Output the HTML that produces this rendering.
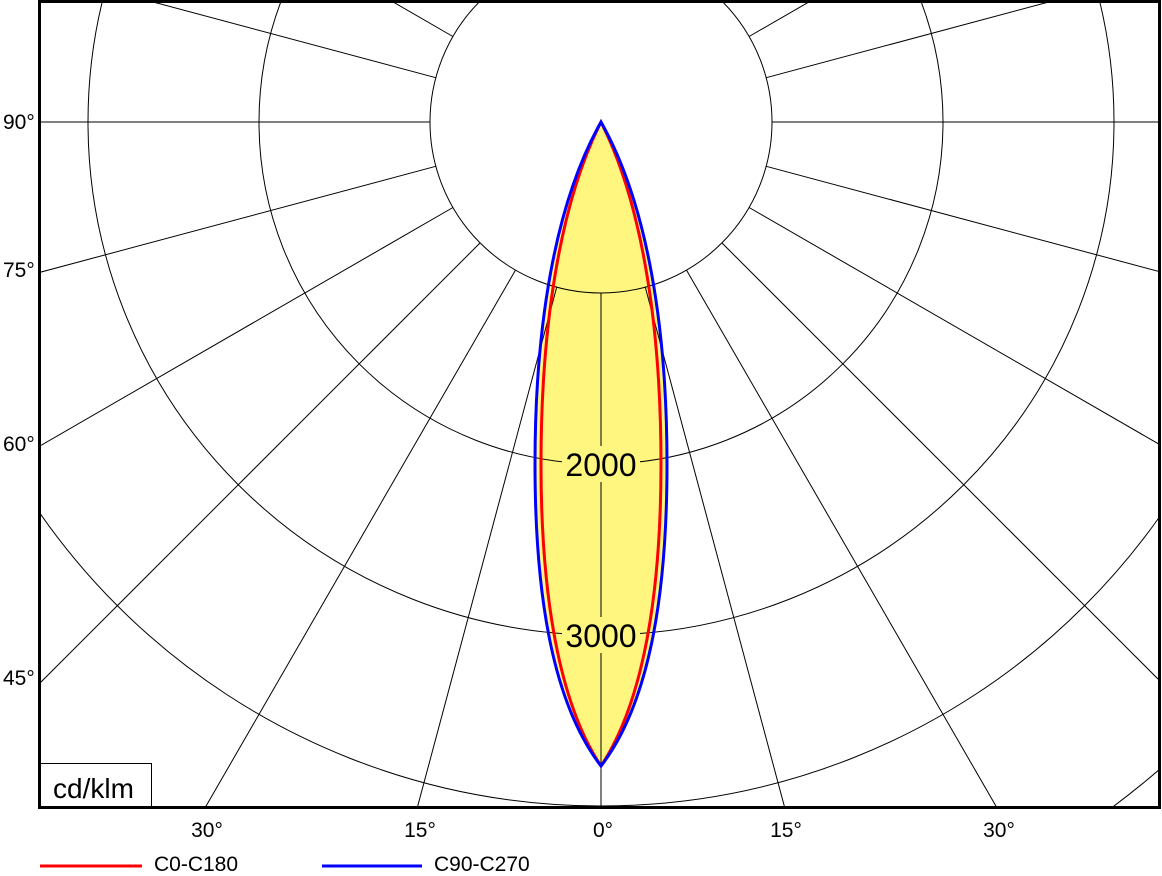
<!DOCTYPE html>
<html><head><meta charset="utf-8"><style>
html,body{margin:0;padding:0;background:#fff;overflow:hidden;width:1162px;height:876px;}
svg{display:block;}
text{font-family:"Liberation Sans",Arial,sans-serif;fill:#000;}
</style></head><body>
<svg width="1162" height="876" viewBox="0 0 1162 876" xmlns="http://www.w3.org/2000/svg">
<defs>
<clipPath id="c"><rect x="40" y="2" width="1120" height="806"/></clipPath>
</defs>
<rect width="1162" height="876" fill="#fff"/>
<g clip-path="url(#c)">
<path d="M601,122 C648,205 667,330 667,464 C667,600 648,705 601,766 C554,705 535,600 535,464 C535,330 554,205 601,122 Z" fill="#FFF680"/>
<g fill="none" stroke="#000" stroke-width="1">
<circle cx="601" cy="122" r="171"/>
<circle cx="601" cy="122" r="342"/>
<circle cx="601" cy="122" r="513"/>
<circle cx="601" cy="122" r="684"/>
<circle cx="601" cy="122" r="855"/>
</g>
<g stroke="#000" stroke-width="1">
<line x1="601" y1="293" x2="601" y2="446"/>
<line x1="601" y1="482" x2="601" y2="617"/>
<line x1="601" y1="653" x2="601" y2="900"/>
<line x1="556.7" y1="287.2" x2="238.7" y2="1474.3"/>
<line x1="645.3" y1="287.2" x2="963.3" y2="1474.3"/>
<line x1="515.5" y1="270.1" x2="-99" y2="1334.4"/>
<line x1="686.5" y1="270.1" x2="1301" y2="1334.4"/>
<line x1="480.1" y1="242.9" x2="-389" y2="1112"/>
<line x1="721.9" y1="242.9" x2="1591" y2="1112"/>
<line x1="452.9" y1="207.5" x2="-611.4" y2="822"/>
<line x1="749.1" y1="207.5" x2="1813.4" y2="822"/>
<line x1="435.8" y1="166.3" x2="-751.3" y2="484.3"/>
<line x1="766.2" y1="166.3" x2="1953.3" y2="484.3"/>
<line x1="430" y1="122" x2="-799" y2="122"/>
<line x1="772" y1="122" x2="2001" y2="122"/>
<line x1="435.8" y1="77.7" x2="-751.3" y2="-240.3"/>
<line x1="766.2" y1="77.7" x2="1953.3" y2="-240.3"/>
<line x1="452.9" y1="36.5" x2="-611.4" y2="-578"/>
<line x1="749.1" y1="36.5" x2="1813.4" y2="-578"/>
<line x1="480.1" y1="1.1" x2="-389" y2="-868"/>
<line x1="721.9" y1="1.1" x2="1591" y2="-868"/>
</g>
<rect x="562" y="446" width="78" height="36" fill="#FFF680"/>
<rect x="562" y="617" width="78" height="36" fill="#FFF680"/>
<text x="601" y="476" font-size="32" text-anchor="middle">2000</text>
<text x="601" y="647" font-size="32" text-anchor="middle">3000</text>
<path d="M601,122 C643,205 661,330 661,464 C661,595 643,703 601,766 C559,703 541,595 541,464 C541,330 559,205 601,122 Z" fill="none" stroke="#f00" stroke-width="3"/>
<path d="M601,122 C648,205 667,330 667,464 C667,600 648,705 601,766 C554,705 535,600 535,464 C535,330 554,205 601,122 Z" fill="none" stroke="#00f" stroke-width="3"/>
</g>
<rect x="38.5" y="763.5" width="113" height="45" fill="#fff" stroke="#000" stroke-width="1"/>
<text x="53" y="798" font-size="28">cd/klm</text>
<rect x="39.5" y="1.5" width="1120" height="806" fill="none" stroke="#000" stroke-width="3"/>
<g font-size="21">
<text x="3" y="129">90°</text>
<text x="3" y="277">75°</text>
<text x="3" y="451">60°</text>
<text x="3" y="685">45°</text>
<text x="207" y="837" text-anchor="middle">30°</text>
<text x="420" y="837" text-anchor="middle">15°</text>
<text x="603" y="837" text-anchor="middle">0°</text>
<text x="786" y="837" text-anchor="middle">15°</text>
<text x="999" y="837" text-anchor="middle">30°</text>
</g>
<line x1="40" y1="866" x2="142" y2="866" stroke="#f00" stroke-width="3"/>
<text x="154" y="871" font-size="21">C0-C180</text>
<line x1="322" y1="866" x2="422" y2="866" stroke="#00f" stroke-width="3"/>
<text x="434" y="871" font-size="21">C90-C270</text>
</svg>
</body></html>
